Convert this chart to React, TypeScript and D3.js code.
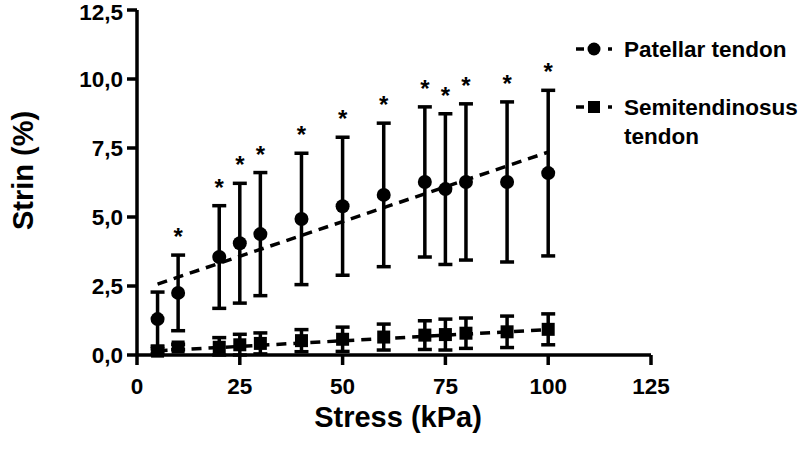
import React from 'react';
import * as d3 from 'd3';

const stress = [5, 10, 20, 25, 30, 40, 50, 60, 70, 75, 80, 90, 100];
const patellarMean = [1.3, 2.25, 3.55, 4.05, 4.38, 4.93, 5.39, 5.8, 6.27, 6.01, 6.27, 6.27, 6.59];
const patellarSd = [0.98, 1.37, 1.86, 2.17, 2.23, 2.38, 2.5, 2.6, 2.72, 2.73, 2.83, 2.9, 3.0];
const patellarStar = [false, true, true, true, true, true, true, true, true, true, true, true, true];
const semiMean = [0.14, 0.29, 0.28, 0.37, 0.42, 0.52, 0.57, 0.65, 0.72, 0.74, 0.79, 0.84, 0.93];
const semiSd = [0.08, 0.1, 0.35, 0.38, 0.38, 0.4, 0.44, 0.47, 0.52, 0.56, 0.55, 0.57, 0.56];
const fitX = [5, 100];
const patellarFit = [2.57, 7.35];
const semiFit = [0.15, 0.92];
const xTicks = [0, 25, 50, 75, 100, 125];
const yTicks = [0, 2.5, 5, 7.5, 10, 12.5];

const W = 800;
const H = 453;
const FONT = '"Liberation Sans", Arial, Helvetica, sans-serif';

const App: React.FC = () => {
  const x = d3.scaleLinear().domain([0, 125]).range([137, 651]);
  const y = d3.scaleLinear().domain([0, 12.5]).range([355, 10]);
  const fmt = (v: number) => v.toFixed(1).replace('.', ',');
  const cap = 7;
  const sw = 3.5;

  const fitLine = d3.line<number>().x((_, i) => x(fitX[i])).y(v => y(v));

  const errorBars = (mean: number[], sd: number[], key: string) =>
    stress.map((s, i) => {
      const cx = x(s);
      const top = y(mean[i] + sd[i]);
      const bot = y(Math.max(mean[i] - sd[i], 0));
      return (
        <g key={key + i} stroke="#000" strokeWidth={sw}>
          <line x1={cx} x2={cx} y1={top} y2={bot} />
          <line x1={cx - cap} x2={cx + cap} y1={top} y2={top} />
          <line x1={cx - cap} x2={cx + cap} y1={bot} y2={bot} />
        </g>
      );
    });

  return (
    <div style={{ position: 'absolute', left: 0, top: 0 }}>
      <svg width={W} height={H} style={{ display: 'block', background: '#fff' }} fontFamily={FONT} fontWeight="bold">
        {/* trend lines */}
        <path d={fitLine(patellarFit) ?? ''} fill="none" stroke="#000" strokeWidth={sw} strokeDasharray="10,7" />
        <path d={fitLine(semiFit) ?? ''} fill="none" stroke="#000" strokeWidth={sw} strokeDasharray="10,7" />

        {errorBars(patellarMean, patellarSd, 'p')}
        {errorBars(semiMean, semiSd, 's')}

        {stress.map((s, i) => (
          <circle key={'c' + i} cx={x(s)} cy={y(patellarMean[i])} r={7} fill="#000" />
        ))}
        {stress.map((s, i) => (
          <rect key={'r' + i} x={x(s) - 6.5} y={y(semiMean[i]) - 6.5} width={13} height={13} fill="#000" />
        ))}

        {stress.map((s, i) =>
          patellarStar[i] ? (
            <text key={'a' + i} x={x(s)} y={y(patellarMean[i] + patellarSd[i]) - 10} textAnchor="middle" fontSize={24}>
              *
            </text>
          ) : null
        )}

        {/* axes */}
        <line x1={x(0)} x2={x(125)} y1={y(0)} y2={y(0)} stroke="#000" strokeWidth={sw} />
        <line x1={x(0)} x2={x(0)} y1={y(12.5)} y2={y(0)} stroke="#000" strokeWidth={sw} />
        {xTicks.map(t => (
          <g key={'xt' + t}>
            <line x1={x(t)} x2={x(t)} y1={y(0)} y2={y(0) + 10} stroke="#000" strokeWidth={sw} />
            <text x={x(t)} y={394} textAnchor="middle" fontSize={22.5}>
              {t}
            </text>
          </g>
        ))}
        {yTicks.map(t => (
          <g key={'yt' + t}>
            <line x1={x(0) - 10} x2={x(0)} y1={y(t)} y2={y(t)} stroke="#000" strokeWidth={sw} />
            <text x={123} y={Math.max(y(t), 12)} dy="0.36em" textAnchor="end" fontSize={22.5}>
              {fmt(t)}
            </text>
          </g>
        ))}

        <text x={(x(0) + x(125)) / 2 + 4} y={427} textAnchor="middle" fontSize={29}>
          Stress (kPa)
        </text>
        <text transform={`translate(33, ${y(6.25) - 12}) rotate(-90)`} textAnchor="middle" fontSize={29}>
          Strin (%)
        </text>

        {/* legend */}
        <g stroke="#000" strokeWidth={sw}>
          <line x1={576} x2={584} y1={49} y2={49} />
          <line x1={608} x2={612} y1={49} y2={49} />
          <line x1={576} x2={584} y1={107} y2={107} />
          <line x1={608} x2={612} y1={107} y2={107} />
        </g>
        <circle cx={594} cy={49} r={6.5} fill="#000" />
        <rect x={588} y={101} width={12} height={12} fill="#000" />
        <text x={624} y={49} dy="0.36em" fontSize={22.5}>
          Patellar tendon
        </text>
        <text x={624} y={107} dy="0.36em" fontSize={22.5}>
          Semitendinosus
        </text>
        <text x={624} y={136} dy="0.36em" fontSize={22.5}>
          tendon
        </text>
      </svg>
    </div>
  );
};

export default App;
